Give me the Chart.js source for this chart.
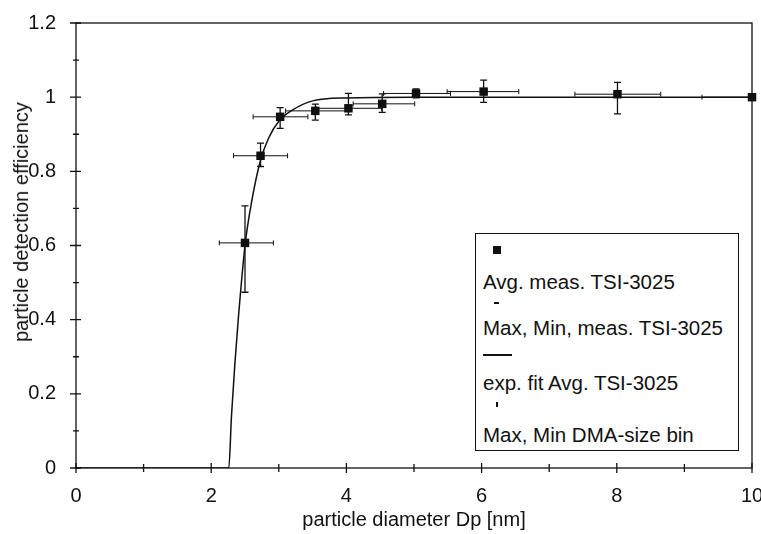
<!DOCTYPE html>
<html>
<head>
<meta charset="utf-8">
<script src="https://cdn.jsdelivr.net/npm/chart.js@4.4.1/dist/chart.umd.min.js"></script>
<style>
    body { margin: 0; background: #fff; }
    .wrap { position: relative; width: 761px; height: 534px; font-family: 'Liberation Sans', Arial, sans-serif; color: #111; }
    .y-title {
        position: absolute; left: 21px; top: 222px; font-size: 20px; line-height: 24px;
        white-space: nowrap; transform: translate(-50%, -50%) rotate(-90deg);
    }
    .legend-box {
        position: absolute; left: 475px; top: 233px; width: 262px; height: 216px;
        border: 1px solid #111; background: #fff; font-size: 20.5px;
    }
    .legend-box span { position: absolute; }
    .legend-box .txt { left: 7px; line-height: 22px; white-space: nowrap; }
</style>
</head>
<body>
<div class="wrap">
    <canvas id="effChart" width="761" height="534"></canvas>
    <div class="y-title">particle detection efficiency</div>
    <div class="legend-box">
        <span style="left:17px;top:12px;width:8px;height:8px;background:#111"></span>
        <span class="txt" style="top:37px">Avg. meas. TSI-3025</span>
        <span style="left:18px;top:68px;width:5px;height:2px;background:#111"></span>
        <span class="txt" style="top:83px">Max, Min, meas. TSI-3025</span>
        <span style="left:7px;top:120px;width:29px;height:1.5px;background:#111"></span>
        <span class="txt" style="top:138px">exp. fit Avg. TSI-3025</span>
        <span style="left:20px;top:168px;width:1.5px;height:5px;background:#111"></span>
        <span class="txt" style="top:190px">Max, Min DMA-size bin</span>
    </div>
</div>
<script>
        // averaged measurements, TSI-3025
        const avgDp = [2.5, 2.73, 3.02, 3.54, 4.03, 4.53, 5.03, 6.03, 8.01, 10];
        const avgEff = [0.607, 0.842, 0.947, 0.963, 0.970, 0.982, 1.010, 1.015, 1.008, 1.0];
        // max / min measured efficiency
        const effMax = [0.707, 0.876, 0.972, 0.981, 1.010, 1.009, 1.022, 1.046, 1.040, 1.005];
        const effMin = [0.474, 0.813, 0.916, 0.938, 0.952, 0.959, 0.998, 0.986, 0.955, 0.995];
        // DMA size bin limits
        const binMin = [2.12, 2.33, 2.62, 3.1, 3.55, 4.1, 4.55, 5.49, 7.38, 9.26];
        const binMax = [2.92, 3.13, 3.43, 4.03, 4.52, 5.01, 5.54, 6.55, 8.65, 10.74];
        // exponential fit
        const fitDp = [0, 2.26, 2.3, 2.35, 2.4, 2.5, 2.6, 2.73, 2.85, 3.0, 3.2, 3.5, 4.0, 5.0, 10];
        const fitEff = [0, 0, 0.14, 0.28, 0.40, 0.60, 0.72, 0.83, 0.89, 0.935, 0.965, 0.99, 0.998, 1.0, 1.0];

        const ink = '#111';
        const font = { family: "'Liberation Sans', Arial, sans-serif", size: 20 };

        // error bars, frame and crossing tick marks
        const extrasPlugin = {
            id: 'extras',
            afterDatasetsDraw(chart) {
                const ctx = chart.ctx;
                const xs = chart.scales.x, ys = chart.scales.y;
                ctx.save();
                ctx.strokeStyle = ink;
                for (let i = 0; i < avgDp.length; i++) {
                    const px = xs.getPixelForValue(avgDp[i]);
                    const py = ys.getPixelForValue(avgEff[i]);
                    // horizontal: DMA bin
                    const l = xs.getPixelForValue(binMin[i]);
                    const r = Math.min(xs.getPixelForValue(binMax[i]), chart.chartArea.right);
                    ctx.lineWidth = 1;
                    ctx.beginPath();
                    ctx.moveTo(l, py); ctx.lineTo(r, py);
                    ctx.moveTo(l, py - 2.5); ctx.lineTo(l, py + 2.5);
                    if (r < chart.chartArea.right) { ctx.moveTo(r, py - 2.5); ctx.lineTo(r, py + 2.5); }
                    ctx.stroke();
                    // vertical: max/min measured
                    const t = ys.getPixelForValue(effMax[i]);
                    const b = ys.getPixelForValue(effMin[i]);
                    ctx.lineWidth = 1.3;
                    ctx.beginPath();
                    ctx.moveTo(px, t); ctx.lineTo(px, b);
                    ctx.moveTo(px - 3.5, t); ctx.lineTo(px + 3.5, t);
                    ctx.moveTo(px - 3.5, b); ctx.lineTo(px + 3.5, b);
                    ctx.stroke();
                }
                ctx.restore();
            },
            afterDraw(chart) {
                const ctx = chart.ctx;
                const a = chart.chartArea;
                const xs = chart.scales.x, ys = chart.scales.y;
                ctx.save();
                ctx.strokeStyle = ink;
                ctx.lineWidth = 1.3;
                ctx.strokeRect(a.left, a.top, a.right - a.left, a.bottom - a.top);
                ctx.beginPath();
                const xt = xs.ticks.map(t => t.value);
                xt.forEach((v, i) => {
                    const p = xs.getPixelForValue(v);
                    ctx.moveTo(p, a.bottom - 5); ctx.lineTo(p, a.bottom + 5);
                    if (i < xt.length - 1) {
                        const m = xs.getPixelForValue((v + xt[i + 1]) / 2);
                        ctx.moveTo(m, a.bottom - 4); ctx.lineTo(m, a.bottom + 4);
                    }
                });
                const yt = ys.ticks.map(t => t.value);
                yt.forEach((v, i) => {
                    const p = ys.getPixelForValue(v);
                    ctx.moveTo(a.left - 6, p); ctx.lineTo(a.left + 5, p);
                    if (i < yt.length - 1) {
                        const m = ys.getPixelForValue((v + yt[i + 1]) / 2);
                        ctx.moveTo(a.left - 3, m); ctx.lineTo(a.left + 3, m);
                    }
                });
                ctx.stroke();
                ctx.restore();
            }
        };

        const ctx = document.getElementById('effChart').getContext('2d');
        new Chart(ctx, {
            type: 'scatter',
            data: {
                datasets: [{
                    label: 'exp. fit Avg. TSI-3025',
                    data: fitDp.map((x, i) => ({ x: x, y: fitEff[i] })),
                    showLine: true,
                    borderColor: ink,
                    borderWidth: 1.5,
                    pointRadius: 0,
                    cubicInterpolationMode: 'monotone'
                }, {
                    label: 'Avg. meas. TSI-3025',
                    data: avgDp.map((x, i) => ({ x: x, y: avgEff[i] })),
                    pointStyle: 'rect',
                    pointRadius: 6,
                    backgroundColor: ink,
                    borderColor: ink,
                    borderWidth: 0,
                    clip: false
                }]
            },
            options: {
                responsive: false,
                animation: false,
                devicePixelRatio: 1,
                layout: { padding: { top: 23, right: 9, left: 0, bottom: 0 } },
                plugins: { legend: { display: false }, tooltip: { enabled: false } },
                scales: {
                    x: {
                        type: 'linear', min: 0, max: 10,
                        grid: { display: false },
                        border: { display: false },
                        ticks: { stepSize: 2, color: ink, font: font, padding: 8, maxRotation: 0 },
                        title: { display: true, text: 'particle diameter Dp [nm]', color: ink, font: font, padding: { top: 0, bottom: 2 } },
                        afterFit(scale) {
                            scale.height = 66;
                            scale.paddingLeft = 0;
                            scale.paddingRight = 0;
                        }
                    },
                    y: {
                        type: 'linear', min: 0, max: 1.2,
                        grid: { display: false },
                        border: { display: false },
                        ticks: {
                            stepSize: 0.2, color: ink, font: font, padding: 12,
                            callback: v => String(parseFloat(v.toFixed(1)))
                        },
                        afterFit(scale) {
                            scale.width = 76;
                            scale.paddingTop = 0;
                            scale.paddingBottom = 0;
                        }
                    }
                }
            },
            plugins: [extrasPlugin]
        });
</script>
</body>
</html>
